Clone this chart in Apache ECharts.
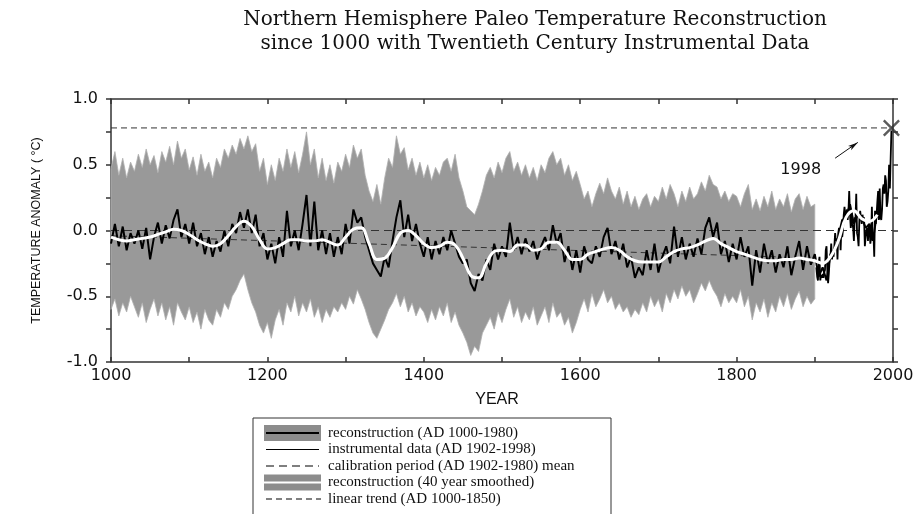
<!DOCTYPE html>
<html><head><meta charset="utf-8">
<script src="https://cdn.jsdelivr.net/npm/echarts@6/dist/echarts.min.js"></script>
<style>html,body{margin:0;padding:0;background:#fff}#c{width:921px;height:514px}</style>
</head><body><div id="c"></div>
<script>
// ---------- DATA ----------
const titleLines = ['Northern Hemisphere Paleo Temperature Reconstruction', 'since 1000 with Twentieth Century Instrumental Data'];
const xTickLabels = ['1000', '1200', '1400', '1600', '1800', '2000'];
const yTickLabels = ['-1.0', '-0.5', '0.0', '0.5', '1.0'];

// reconstruction (AD 1000-1980), 5-year samples
const reconStart = 1000, reconStep = 5;
const reconstruction = [
-0.10,0.05,-0.12,0.03,-0.15,-0.02,-0.10,0.00,-0.14,0.02,-0.22,-0.05,0.06,-0.10,0.04,-0.06,0.08,0.16,-0.05,0.05,
-0.10,0.06,-0.12,-0.02,-0.18,-0.05,-0.20,-0.08,-0.16,0.00,-0.12,0.05,-0.02,0.14,0.02,0.16,-0.02,0.12,-0.12,-0.02,
-0.22,-0.10,-0.25,-0.05,-0.20,0.15,-0.12,0.00,-0.15,0.05,0.27,-0.12,0.22,-0.15,0.00,-0.18,-0.02,-0.20,-0.05,-0.18,
0.05,-0.10,0.16,0.06,0.10,-0.05,-0.15,-0.25,-0.30,-0.35,-0.20,-0.28,-0.08,0.10,0.23,-0.05,0.12,-0.08,0.05,-0.10,
-0.20,-0.05,-0.22,-0.08,-0.18,-0.05,-0.15,0.00,-0.10,-0.20,-0.25,-0.22,-0.40,-0.46,-0.33,-0.38,-0.22,-0.30,-0.10,-0.22,
-0.12,-0.20,0.06,-0.15,-0.05,-0.18,-0.06,-0.16,-0.08,-0.22,-0.12,-0.05,-0.15,0.04,-0.10,-0.02,-0.24,-0.12,-0.30,-0.15,
-0.32,-0.12,-0.22,-0.25,-0.12,-0.20,-0.05,0.02,-0.18,-0.08,-0.22,-0.10,-0.28,-0.20,-0.36,-0.28,-0.34,-0.15,-0.30,-0.10,
-0.32,-0.20,-0.12,-0.25,0.03,-0.20,-0.05,-0.22,-0.10,-0.20,-0.06,-0.18,0.02,0.10,-0.05,0.06,-0.18,-0.08,-0.24,-0.10,
-0.22,-0.05,-0.20,-0.12,-0.42,-0.15,-0.32,-0.10,-0.25,-0.15,-0.32,-0.18,-0.28,-0.12,-0.34,-0.20,-0.08,-0.30,-0.12,-0.26,
-0.18,-0.35,-0.28,-0.38,-0.18,-0.15,-0.05,0.08,0.10,0.20,0.05,0.12,0.10,0.02,0.05,-0.05,0.15
];

// uncertainty band of the reconstruction (AD 1000-1900), 5-year samples
const bandStart = 1000, bandStep = 5;
const bandUpper = [
0.47,0.60,0.42,0.55,0.40,0.52,0.45,0.58,0.48,0.62,0.50,0.57,0.44,0.60,0.52,0.64,0.50,0.68,0.55,0.62,
0.46,0.56,0.42,0.58,0.45,0.52,0.40,0.55,0.48,0.62,0.55,0.65,0.58,0.70,0.62,0.72,0.60,0.66,0.45,0.55,
0.35,0.50,0.38,0.55,0.45,0.62,0.48,0.60,0.44,0.58,0.75,0.50,0.62,0.40,0.55,0.38,0.50,0.36,0.52,0.45,
0.58,0.48,0.65,0.55,0.62,0.42,0.30,0.22,0.35,0.20,0.40,0.55,0.48,0.72,0.58,0.63,0.46,0.55,0.42,0.52,
0.40,0.50,0.38,0.48,0.42,0.52,0.55,0.45,0.58,0.40,0.30,0.18,0.15,0.12,0.20,0.30,0.42,0.48,0.40,0.52,
0.44,0.55,0.60,0.45,0.52,0.42,0.50,0.40,0.48,0.38,0.50,0.44,0.55,0.60,0.50,0.55,0.42,0.50,0.38,0.45,
0.35,0.24,0.30,0.18,0.28,0.36,0.28,0.40,0.30,0.24,0.33,0.20,0.30,0.18,0.26,0.16,0.24,0.28,0.18,0.26,
0.22,0.33,0.24,0.35,0.28,0.18,0.30,0.22,0.33,0.24,0.28,0.37,0.30,0.42,0.35,0.33,0.24,0.30,0.22,0.28,
0.26,0.18,0.28,0.35,0.16,0.24,0.15,0.26,0.18,0.30,0.16,0.24,0.18,0.28,0.14,0.24,0.28,0.16,0.26,0.18,
0.20
];
const bandLower = [
-0.60,-0.52,-0.65,-0.55,-0.62,-0.50,-0.58,-0.66,-0.55,-0.70,-0.60,-0.52,-0.65,-0.55,-0.68,-0.58,-0.72,-0.55,-0.62,-0.68,
-0.58,-0.70,-0.62,-0.75,-0.60,-0.68,-0.72,-0.60,-0.66,-0.55,-0.60,-0.50,-0.45,-0.38,-0.33,-0.45,-0.55,-0.62,-0.72,-0.78,
-0.70,-0.82,-0.68,-0.60,-0.72,-0.55,-0.62,-0.50,-0.65,-0.55,-0.62,-0.52,-0.66,-0.58,-0.70,-0.60,-0.66,-0.58,-0.62,-0.55,
-0.60,-0.50,-0.56,-0.45,-0.52,-0.60,-0.70,-0.78,-0.82,-0.75,-0.68,-0.60,-0.55,-0.48,-0.58,-0.50,-0.62,-0.55,-0.65,-0.58,
-0.62,-0.70,-0.60,-0.68,-0.58,-0.65,-0.55,-0.70,-0.62,-0.72,-0.78,-0.85,-0.95,-0.88,-0.92,-0.78,-0.72,-0.66,-0.75,-0.62,
-0.70,-0.60,-0.52,-0.66,-0.58,-0.70,-0.62,-0.68,-0.58,-0.72,-0.65,-0.58,-0.70,-0.55,-0.66,-0.62,-0.72,-0.66,-0.78,-0.70,
-0.60,-0.52,-0.62,-0.48,-0.58,-0.52,-0.45,-0.55,-0.50,-0.60,-0.55,-0.62,-0.58,-0.66,-0.60,-0.64,-0.55,-0.62,-0.50,-0.58,
-0.52,-0.62,-0.48,-0.55,-0.45,-0.52,-0.42,-0.50,-0.45,-0.55,-0.48,-0.40,-0.46,-0.38,-0.45,-0.50,-0.58,-0.48,-0.55,-0.50,
-0.55,-0.45,-0.58,-0.50,-0.68,-0.55,-0.62,-0.52,-0.66,-0.55,-0.62,-0.50,-0.58,-0.48,-0.60,-0.52,-0.46,-0.58,-0.50,-0.56,
-0.52
];

// reconstruction (40 year smoothed), 10-year samples
const smoothStart = 1000, smoothStep = 10;
const smoothed = [
-0.05,-0.07,-0.08,-0.07,-0.06,-0.05,-0.03,-0.01,0.01,0.00,
-0.03,-0.07,-0.10,-0.12,-0.10,-0.04,0.03,0.07,0.03,-0.07,
-0.14,-0.13,-0.10,-0.07,-0.07,-0.08,-0.08,-0.07,-0.09,-0.11,
-0.05,0.01,0.02,-0.10,-0.22,-0.21,-0.13,-0.02,0.00,-0.04,
-0.10,-0.13,-0.12,-0.09,-0.11,-0.21,-0.34,-0.36,-0.25,-0.16,
-0.15,-0.16,-0.11,-0.11,-0.15,-0.14,-0.09,-0.09,-0.15,-0.22,
-0.22,-0.18,-0.16,-0.14,-0.13,-0.15,-0.20,-0.23,-0.24,-0.24,
-0.24,-0.20,-0.16,-0.14,-0.13,-0.11,-0.08,-0.06,-0.10,-0.13,
-0.16,-0.18,-0.20,-0.22,-0.23,-0.23,-0.22,-0.22,-0.21,-0.22,
-0.23,-0.25,-0.20,-0.08,0.10,0.15,0.09,0.07,0.12
];

// instrumental data (AD 1902-1998), annual
const instStart = 1902;
const instrumental = [
-0.28,-0.35,-0.38,-0.25,-0.20,-0.38,-0.34,-0.36,-0.33,-0.36,-0.32,-0.30,-0.15,-0.12,-0.30,-0.40,-0.32,-0.22,
-0.20,-0.10,-0.22,-0.18,-0.20,-0.12,-0.02,-0.08,-0.06,-0.22,
-0.02,0.02,-0.02,-0.15,0.02,-0.05,0.00,0.12,0.18,0.10,
0.12,0.16,0.08,0.14,0.30,0.12,0.02,0.15,0.05,0.02,
-0.08,0.10,0.08,0.28,-0.02,-0.05,-0.12,0.08,0.15,0.10,
0.05,0.12,0.08,0.10,-0.12,-0.05,0.00,0.02,-0.08,0.05,
0.02,-0.10,-0.05,0.18,-0.08,-0.02,-0.20,0.15,0.05,0.12,
0.22,0.30,0.08,0.32,0.10,0.08,0.16,0.32,0.35,0.28,
0.42,0.38,0.18,0.22,0.30,0.50,0.32,0.55,0.76
];

// reference lines
const level1998 = 0.78;          // 1998 level
const calibrationMean = 0.0;     // calibration period (AD 1902-1980) mean
const trendYears = [1000, 1850]; // linear trend (AD 1000-1850)
const trendValues = [-0.04, -0.20];
const peakYear = 1998;

// ---------- BUILD ----------
const pairs = (start, step, arr) => arr.map((v, i) => [start + i * step, v]);
const reconData = pairs(reconStart, reconStep, reconstruction);
const smoothData = pairs(smoothStart, smoothStep, smoothed);
const instData = pairs(instStart, 1, instrumental);

const serif = '"Liberation Serif", "DejaVu Serif", serif';
const titleSerif = '"DejaVu Serif", serif';
const sans = '"Liberation Sans", Arial, sans-serif';
const wideSans = '"DejaVu Sans", sans-serif';

const chart = echarts.init(document.getElementById('c'), null, {renderer: 'canvas'});

const legendX = 253, legendY = 418, rowH = 16.5;
const legendItems = [
  'reconstruction (AD 1000-1980)',
  'instrumental data (AD 1902-1998)',
  'calibration period (AD 1902-1980) mean',
  'reconstruction (40 year smoothed)',
  'linear trend (AD 1000-1850)'
];
const lg = [];
lg.push({type: 'rect', shape: {x: legendX, y: legendY, width: 358, height: 110}, style: {fill: '#fff', stroke: '#333', lineWidth: 1}, z: 10});
legendItems.forEach((t, i) => {
  const cy = legendY + 15 + i * rowH;
  lg.push({type: 'text', style: {x: 328, y: cy, text: t, font: '15px ' + serif, fill: '#111', textVerticalAlign: 'middle'}, z: 11});
});
let cy = legendY + 15;
lg.push({type: 'rect', shape: {x: 264, y: cy - 8, width: 57, height: 16}, style: {fill: '#8c8c8c'}, z: 11});
lg.push({type: 'line', shape: {x1: 266, y1: cy, x2: 319, y2: cy}, style: {stroke: '#000', lineWidth: 2}, z: 12});
cy += rowH;
lg.push({type: 'line', shape: {x1: 266, y1: cy, x2: 319, y2: cy}, style: {stroke: '#000', lineWidth: 1.2}, z: 12});
cy += rowH;
lg.push({type: 'line', shape: {x1: 266, y1: cy, x2: 319, y2: cy}, style: {stroke: '#000', lineWidth: 1.2, lineDash: [8, 5]}, z: 12});
cy += rowH;
lg.push({type: 'rect', shape: {x: 264, y: cy - 8, width: 57, height: 16}, style: {fill: '#8c8c8c'}, z: 11});
lg.push({type: 'line', shape: {x1: 264, y1: cy, x2: 321, y2: cy}, style: {stroke: '#fff', lineWidth: 2}, z: 12});
cy += rowH;
lg.push({type: 'line', shape: {x1: 266, y1: cy, x2: 321, y2: cy}, style: {stroke: '#000', lineWidth: 1, lineDash: [6, 4]}, z: 12});

const option = {
  animation: false,
  backgroundColor: '#fff',
  title: {
    text: titleLines.join('\n'),
    left: 530, top: 3, textAlign: 'center',
    textStyle: {fontFamily: titleSerif, fontSize: 20, fontWeight: 'normal', color: '#111', lineHeight: 24}
  },
  grid: {left: 111, right: 28, top: 99, bottom: 152, containLabel: false},
  xAxis: [
    {type: 'value', min: 1000, max: 2000, interval: 100, position: 'bottom',
     name: 'YEAR', nameLocation: 'middle', nameGap: 30,
     nameTextStyle: {fontFamily: sans, fontSize: 16, color: '#111', padding: [0, 10, 0, 0]},
     axisLine: {show: true, onZero: false, lineStyle: {color: '#333', width: 1.5}},
     axisTick: {show: true, inside: true, length: 5, lineStyle: {color: '#333', width: 1.5}},
     axisLabel: {fontFamily: wideSans, fontSize: 16, color: '#111', margin: 6,
       formatter: v => xTickLabels.indexOf(String(v)) >= 0 ? String(v) : ''},
     splitLine: {show: false}},
    {type: 'value', min: 1000, max: 2000, interval: 100, position: 'top',
     axisLine: {show: true, onZero: false, lineStyle: {color: '#333', width: 1.5}},
     axisTick: {show: true, inside: true, length: 5, lineStyle: {color: '#333', width: 1.5}},
     axisLabel: {show: false}, splitLine: {show: false}}
  ],
  yAxis: [
    {type: 'value', min: -1, max: 1, interval: 0.25, position: 'left',
     name: 'TEMPERATURE ANOMALY ( °C)', nameLocation: 'middle', nameRotate: 90, nameGap: 68,
     nameTextStyle: {fontFamily: sans, fontSize: 12.5, color: '#111'},
     axisLine: {show: true, onZero: false, lineStyle: {color: '#333', width: 1.5}},
     axisTick: {show: true, inside: false, length: 5, lineStyle: {color: '#333', width: 1.5}},
     axisLabel: {fontFamily: wideSans, fontSize: 16, color: '#111', margin: 13,
       formatter: v => { const s = v.toFixed(1); return yTickLabels.indexOf(s) >= 0 && Math.abs(v * 2 - Math.round(v * 2)) < 1e-9 ? s : ''; }},
     splitLine: {show: false}},
    {type: 'value', min: -1, max: 1, interval: 0.25, position: 'right',
     axisLine: {show: true, onZero: false, lineStyle: {color: '#333', width: 1.5}},
     axisTick: {show: true, inside: false, length: 5, lineStyle: {color: '#333', width: 1.5}},
     axisLabel: {show: false}, splitLine: {show: false}}
  ],
  series: [
    {name: 'band', type: 'custom', silent: true, z: 1,
     data: [[bandStart, 0]],
     renderItem: (params, api) => {
       const pts = [];
       for (let i = 0; i < bandUpper.length; i++) pts.push(api.coord([bandStart + i * bandStep, bandUpper[i]]));
       for (let i = bandLower.length - 1; i >= 0; i--) pts.push(api.coord([bandStart + i * bandStep, bandLower[i]]));
       return {type: 'polygon', shape: {points: pts}, style: {fill: '#999999', stroke: '#b0b0b0', lineWidth: 0.8}};
     }},
    {name: 'level', type: 'line', z: 2, symbol: 'none', silent: true,
     data: [[1000, level1998], [2000, level1998]],
     lineStyle: {color: '#333', width: 1, type: [6, 4]}},
    {name: 'calibration mean', type: 'line', z: 2, symbol: 'none', silent: true,
     data: [[1000, calibrationMean], [2000, calibrationMean]],
     lineStyle: {color: '#333', width: 1, type: [8, 5]}},
    {name: 'linear trend', type: 'line', z: 2, symbol: 'none', silent: true,
     data: trendYears.map((y, i) => [y, trendValues[i]]),
     lineStyle: {color: '#333', width: 1, type: [6, 4]}},
    {name: 'reconstruction', type: 'line', z: 3, symbol: 'none', silent: true,
     data: reconData, lineStyle: {color: '#000', width: 2}},
    {name: 'instrumental', type: 'line', z: 3, symbol: 'none', silent: true,
     data: instData, lineStyle: {color: '#000', width: 1.8}},
    {name: 'smoothed', type: 'line', z: 4, symbol: 'none', silent: true, smooth: 0.4,
     data: smoothData, lineStyle: {color: '#fff', width: 3}},
    {name: 'peak', type: 'scatter', z: 5, silent: true,
     data: [[peakYear, level1998]],
     symbol: 'path://M0,1 L1,0 L10,9 L9,10 Z M9,0 L10,1 L1,10 L0,9 Z',
     symbolSize: 17, itemStyle: {color: '#333'},
     markLine: {silent: true, symbol: ['none', 'arrow'], symbolSize: [4, 10],
       lineStyle: {color: '#111', width: 1, type: 'solid'}, label: {show: false},
       data: [[{coord: [1926, 0.55]}, {coord: [1955, 0.67]}]]},
     markPoint: {silent: true, symbol: 'circle', symbolSize: 0,
       label: {show: true, formatter: String(peakYear), position: 'inside', fontFamily: wideSans, fontSize: 16, color: '#111'},
       data: [{coord: [1882, 0.46]}]}}
  ],
  graphic: lg
};
chart.setOption(option);
</script></body></html>
